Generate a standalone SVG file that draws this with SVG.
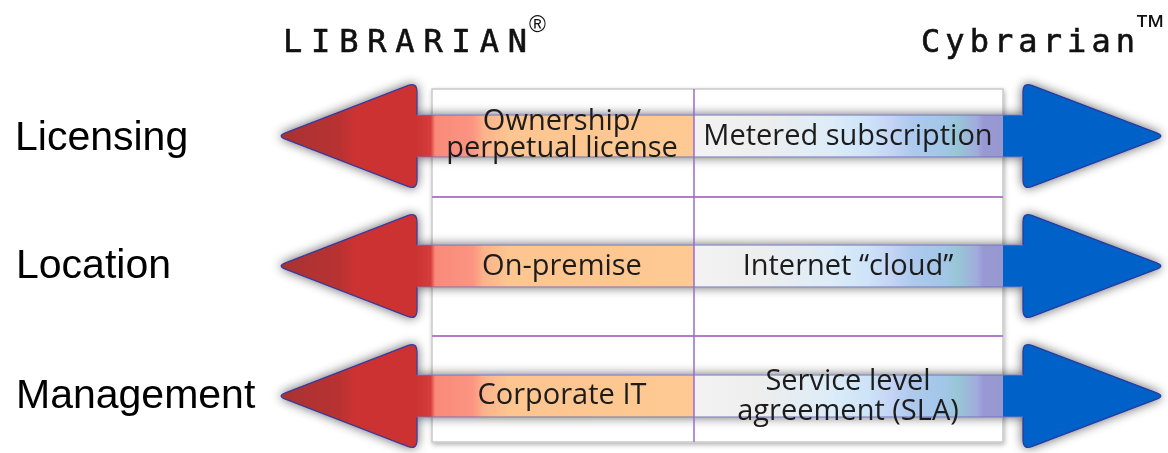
<svg xmlns="http://www.w3.org/2000/svg" xmlns:xlink="http://www.w3.org/1999/xlink" width="1168" height="453" viewBox="0 0 1168 453">
  <defs>
    <style>
      .hdr { font-family: "DejaVu Sans Mono", "Liberation Mono", monospace; font-size: 32px; fill: #111; stroke: #111; stroke-width: 0.6px; }
      .sym { font-family: "Liberation Sans", Arial, sans-serif; fill: #111; }
      .rowlab { font-family: "Liberation Sans", Arial, sans-serif; font-size: 41px; fill: #000; }
      .cell { font-family: "Open Sans", "Noto Sans", sans-serif; font-size: 29px; fill: #1c1c1c; text-anchor: middle; }
      .grid { stroke: #b27cc8; stroke-width: 2; fill: none; }
      .edge { stroke: #7373b8; stroke-width: 1; fill: none; }
    </style>
    <linearGradient id="redHead" gradientUnits="userSpaceOnUse" x1="277" y1="0" x2="417" y2="0">
      <stop offset="0" stop-color="#a83232"/>
      <stop offset="0.45" stop-color="#b93333"/>
      <stop offset="0.55" stop-color="#cc3333"/>
      <stop offset="1" stop-color="#cc3333"/>
    </linearGradient>
    <linearGradient id="leftBand" gradientUnits="userSpaceOnUse" x1="417" y1="0" x2="694" y2="0">
      <stop offset="0" stop-color="#cc3333"/>
      <stop offset="0.05" stop-color="#d63c3c"/>
      <stop offset="0.065" stop-color="#f98a7a"/>
      <stop offset="0.2" stop-color="#fb9482"/>
      <stop offset="0.24" stop-color="#fcb28b"/>
      <stop offset="0.33" stop-color="#fdc590"/>
      <stop offset="1" stop-color="#fec992"/>
    </linearGradient>
    <linearGradient id="rightBand" gradientUnits="userSpaceOnUse" x1="694" y1="0" x2="1023" y2="0">
      <stop offset="0" stop-color="#f3f3f3"/>
      <stop offset="0.2" stop-color="#eeeeee"/>
      <stop offset="0.42" stop-color="#dcecf8"/>
      <stop offset="0.53" stop-color="#cde3f8"/>
      <stop offset="0.6" stop-color="#c4d4f4"/>
      <stop offset="0.66" stop-color="#aecaee"/>
      <stop offset="0.76" stop-color="#a2c6e8"/>
      <stop offset="0.8" stop-color="#98c6d6"/>
      <stop offset="0.86" stop-color="#a0acdc"/>
      <stop offset="0.88" stop-color="#9898d4"/>
      <stop offset="0.938" stop-color="#9898d0"/>
      <stop offset="0.94" stop-color="#0062c8"/>
      <stop offset="1" stop-color="#0062c8"/>
    </linearGradient>
    <filter id="halo" x="-10%" y="-60%" width="120%" height="220%">
      <feGaussianBlur in="SourceAlpha" stdDeviation="5.5"/>
      <feComponentTransfer><feFuncA type="linear" slope="0.6"/></feComponentTransfer>
      <feMerge><feMergeNode/><feMergeNode in="SourceGraphic"/></feMerge>
    </filter>
    <filter id="soft" x="-5%" y="-5%" width="110%" height="110%">
      <feGaussianBlur in="SourceAlpha" stdDeviation="2.5"/>
      <feOffset dx="1" dy="2"/>
      <feComponentTransfer><feFuncA type="linear" slope="0.3"/></feComponentTransfer>
      <feMerge><feMergeNode/><feMergeNode in="SourceGraphic"/></feMerge>
    </filter>
    <g id="dblArrow">
      <rect x="417" y="-21" width="277" height="42" fill="url(#leftBand)"/>
      <rect x="694" y="-21" width="329" height="42" fill="url(#rightBand)"/>
      <path d="M 417 -21 L 417 -44 Q 417 -54 407.7 -50.4 L 285.4 -3.2 Q 277 0 285.4 3.2 L 407.7 50.4 Q 417 54 417 44 L 417 21" fill="url(#redHead)" stroke="#3a3a9a" stroke-width="1.3"/>
      <path d="M 1023 -21 L 1023 -44 Q 1023 -54 1032.3 -50.4 L 1156.6 -3.2 Q 1165 0 1156.6 3.2 L 1032.3 50.4 Q 1023 54 1023 44 L 1023 21" fill="#0062c8" stroke="#2a3a9a" stroke-width="1.3"/>
      <line class="edge" x1="417" y1="-21" x2="1023" y2="-21"/>
      <line class="edge" x1="417" y1="21" x2="1023" y2="21"/>
    </g>
  </defs>

  <g id="frame">
    <rect x="432" y="89" width="571" height="353" fill="#ffffff" stroke="#c9c9c9" stroke-width="1.5" filter="url(#soft)"/>
    <line class="grid" x1="432" y1="197" x2="1003" y2="197"/>
    <line class="grid" x1="432" y1="336" x2="1003" y2="336"/>
  </g>

  <g id="connectors" filter="url(#halo)">
    <use xlink:href="#dblArrow" transform="translate(0,136)"/>
    <use xlink:href="#dblArrow" transform="translate(0,266)"/>
    <use xlink:href="#dblArrow" transform="translate(0,396)"/>
  </g>
  <line x1="694" y1="89" x2="694" y2="442" stroke="#9a6ad0" stroke-width="1.5"/>

  <g id="header-librarian">
    <text class="hdr" x="283" y="52" textLength="244" lengthAdjust="spacing">LIBRARIAN</text>
    <text class="sym" x="529" y="32" font-size="23">®</text>
  </g>
  <g id="header-cybrarian">
    <text class="hdr" x="921" y="52" textLength="214" lengthAdjust="spacing">Cybrarian</text>
    <text class="sym" x="1134" y="37" font-size="32">™</text>
  </g>

  <g id="label-licensing"><text class="rowlab" x="15" y="150">Licensing</text></g>
  <g id="label-location"><text class="rowlab" x="16" y="278">Location</text></g>
  <g id="label-management"><text class="rowlab" x="16" y="408" font-size="40">Management</text></g>

  <g id="cell-ownership">
    <text class="cell"><tspan x="562" y="130">Ownership/</tspan><tspan x="562" y="157">perpetual license</tspan></text>
  </g>
  <g id="cell-metered"><text class="cell" x="848" y="145">Metered subscription</text></g>
  <g id="cell-onpremise"><text class="cell" x="562" y="275">On-premise</text></g>
  <g id="cell-cloud"><text class="cell" x="848" y="275">Internet “cloud”</text></g>
  <g id="cell-corporate"><text class="cell" x="562" y="404">Corporate IT</text></g>
  <g id="cell-sla">
    <text class="cell"><tspan x="848" y="390">Service level</tspan><tspan x="848" y="420">agreement (SLA)</tspan></text>
  </g>
</svg>
